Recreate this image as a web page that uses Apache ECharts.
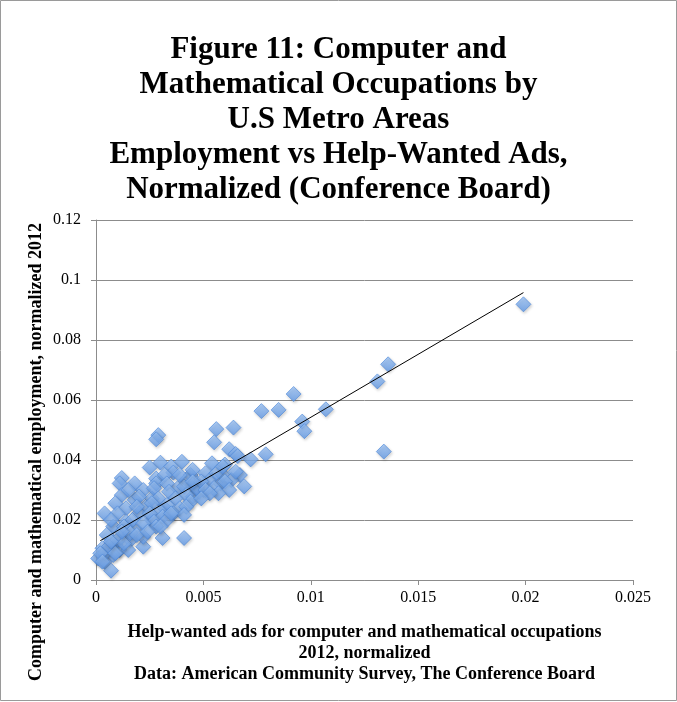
<!DOCTYPE html>
<html>
<head>
<meta charset="utf-8">
<script src="https://cdn.jsdelivr.net/npm/echarts@6/dist/echarts.min.js"></script>
<style>
  html, body { margin: 0; padding: 0; background: #fff; }
  #echart { width: 677px; height: 702px; }
</style>
</head>
<body>
<div id="echart"></div>
<script>
// help-wanted ads (x) and employment (y), both normalized, 2012
var adsX = [
  0.0199, 0.0136, 0.0131, 0.0134, 0.0107, 0.0096, 0.0097, 0.0092, 0.0077, 0.0085,
  0.0056, 0.0064, 0.0055, 0.0062, 0.0065, 0.0072, 0.0079, 0.0067, 0.0069, 0.0066,
  0.0054, 0.0060, 0.0029, 0.0028, 0.0030, 0.0040, 0.0035, 0.0025, 0.0036, 0.0044,
  0.0012, 0.0011, 0.0018, 0.0028, 0.0032, 0.0028, 0.0022, 0.0012, 0.0018, 0.0026,
  0.0009, 0.0014, 0.0023, 0.0004, 0.0010, 0.0020, 0.0032, 0.0014, 0.0026, 0.0008,
  0.0018, 0.0031, 0.0041, 0.0005, 0.0012, 0.0022, 0.0003, 0.0009, 0.0016, 0.0001,
  0.0004, 0.0007, 0.0011, 0.0008, 0.0015, 0.0004, 0.0045, 0.0051, 0.0053, 0.0058,
  0.0059, 0.0050, 0.0055, 0.0047, 0.0045, 0.0056, 0.0059, 0.0042, 0.0038, 0.0045,
  0.0048, 0.0033, 0.0027, 0.0034, 0.0041, 0.0047, 0.0049, 0.0051, 0.0042, 0.0037,
  0.0029, 0.0044, 0.0026, 0.0033, 0.0039, 0.0030, 0.0036, 0.0025, 0.0042, 0.0031,
  0.0041, 0.0027, 0.0028, 0.0017, 0.0013, 0.0022, 0.0033, 0.0030, 0.0035, 0.0010,
  0.0006, 0.0002, 0.0009, 0.0013, 0.0003, 0.0022, 0.0016, 0.0019, 0.0007, 0.0063,
  0.0060, 0.0065, 0.0062, 0.0057, 0.0053, 0.0049, 0.0039, 0.0020, 0.0015, 0.0007,
  0.0019, 0.0045, 0.0024, 0.0012
];
var empY = [
  0.0919, 0.0719, 0.0662, 0.0428, 0.0569, 0.0528, 0.0496, 0.0620, 0.0563, 0.0567,
  0.0503, 0.0508, 0.0459, 0.0436, 0.0420, 0.0402, 0.0419, 0.0350, 0.0312, 0.0413,
  0.0389, 0.0385, 0.0483, 0.0469, 0.0391, 0.0394, 0.0378, 0.0375, 0.0358, 0.0350,
  0.0340, 0.0322, 0.0322, 0.0338, 0.0350, 0.0322, 0.0300, 0.0283, 0.0267, 0.0272,
  0.0256, 0.0239, 0.0244, 0.0222, 0.0222, 0.0222, 0.0239, 0.0194, 0.0200, 0.0178,
  0.0172, 0.0140, 0.0140, 0.0150, 0.0144, 0.0111, 0.0106, 0.0117, 0.0133, 0.0072,
  0.0061, 0.0031, 0.0100, 0.0083, 0.0100, 0.0089, 0.0367, 0.0356, 0.0333, 0.0322,
  0.0350, 0.0300, 0.0307, 0.0322, 0.0278, 0.0356, 0.0378, 0.0333, 0.0306, 0.0317,
  0.0294, 0.0322, 0.0306, 0.0294, 0.0311, 0.0306, 0.0328, 0.0300, 0.0283, 0.0272,
  0.0272, 0.0261, 0.0256, 0.0250, 0.0239, 0.0228, 0.0222, 0.0222, 0.0244, 0.0211,
  0.0217, 0.0194, 0.0178, 0.0200, 0.0178, 0.0189, 0.0200, 0.0178, 0.0222, 0.0133,
  0.0111, 0.0089, 0.0089, 0.0122, 0.0061, 0.0144, 0.0156, 0.0150, 0.0128, 0.0333,
  0.0328, 0.0361, 0.0300, 0.0289, 0.0289, 0.0272, 0.0350, 0.0278, 0.0300, 0.0200,
  0.0244, 0.0328, 0.0161, 0.0161
];
// linear trend line end points
var trendX = [0.0002, 0.0199];
var trendY = [0.0131, 0.0958];

var xTicks = [0, 0.005, 0.01, 0.015, 0.02, 0.025];
var yTicks = [0, 0.02, 0.04, 0.06, 0.08, 0.1, 0.12];

var titleLines = [
  'Figure 11: Computer and',
  'Mathematical Occupations by',
  'U.S Metro Areas',
  'Employment vs Help-Wanted Ads,',
  'Normalized (Conference Board)'
];
var xName = [
  'Help-wanted ads for computer and mathematical occupations',
  '2012, normalized',
  'Data: American Community Survey, The Conference Board'
];
var yName = 'Computer and mathematical employment, normalized 2012';

var points = adsX.map(function (x, i) { return [x, empY[i]]; });
var trend = trendX.map(function (x, i) { return [x, trendY[i]]; });

var serif = '"Liberation Serif", "DejaVu Serif", serif';

var myChart = echarts.init(document.getElementById('echart'));
var option = {
    backgroundColor: '#fff',
    animation: false,
    title: {
        text: titleLines.join('\n'),
        left: 'center',
        top: 27,
        textStyle: {
            fontFamily: serif,
            fontWeight: 'bold',
            fontSize: 31,
            lineHeight: 35,
            color: '#000'
        }
    },
    grid: {
        left: 96,
        top: 220,
        right: 44,
        bottom: 122
    },
    xAxis: {
        type: 'value',
        min: xTicks[0],
        max: xTicks[xTicks.length - 1],
        interval: 0.005,
        name: xName.join('\n'),
        nameLocation: 'middle',
        nameGap: 42,
        nameTextStyle: {
            fontFamily: serif,
            fontWeight: 'bold',
            fontSize: 18,
            lineHeight: 21,
            color: '#000'
        },
        axisLine: { show: true, lineStyle: { color: '#8c8c8c', width: 1 } },
        axisTick: { show: true, length: 5, lineStyle: { color: '#8c8c8c' } },
        splitLine: { show: false },
        axisLabel: {
            fontFamily: serif,
            fontSize: 16,
            color: '#000',
            margin: 10,
            formatter: function (v) { return String(+v.toFixed(3)); }
        }
    },
    yAxis: {
        type: 'value',
        min: yTicks[0],
        max: yTicks[yTicks.length - 1],
        interval: 0.02,
        axisLine: { show: true, lineStyle: { color: '#8c8c8c', width: 1 } },
        axisTick: { show: true, length: 5, lineStyle: { color: '#8c8c8c' } },
        splitLine: { show: true, lineStyle: { color: '#8c8c8c', width: 1 } },
        axisLabel: {
            fontFamily: serif,
            fontSize: 16,
            color: '#000',
            margin: 15,
            formatter: function (v) { return String(+v.toFixed(3)); }
        }
    },
    graphic: [
        {
            type: 'text',
            x: 36,
            y: 452,
            rotation: Math.PI / 2,
            style: {
                text: yName,
                fontFamily: serif,
                fontWeight: 'bold',
                fontSize: 18,
                fill: '#000',
                align: 'center',
                verticalAlign: 'middle'
            }
        },
        {
            type: 'rect',
            shape: { x: 0.5, y: 0.5, width: 676, height: 700 },
            style: { fill: null, stroke: '#9a9a9a', lineWidth: 1 },
            silent: true
        }
    ],
    series: [
        {
            name: 'metros',
            type: 'scatter',
            symbol: 'diamond',
            symbolSize: 15,
            data: points,
            itemStyle: {
                color: new echarts.graphic.LinearGradient(0, 0, 0, 1, [
                    { offset: 0, color: '#9fc5f6' },
                    { offset: 1, color: '#5f98e6' }
                ]),
                borderColor: '#4b87d9',
                borderWidth: 0.8,
                shadowBlur: 3,
                shadowColor: 'rgba(0,0,0,0.22)',
                shadowOffsetX: 1,
                shadowOffsetY: 1.5
            },
            z: 2
        },
        {
            name: 'trend',
            type: 'line',
            data: trend,
            symbol: 'none',
            lineStyle: { color: '#000', width: 1 },
            z: 3
        }
    ]
};
myChart.setOption(option);
window.onresize = myChart.resize;
</script>
</body>
</html>
